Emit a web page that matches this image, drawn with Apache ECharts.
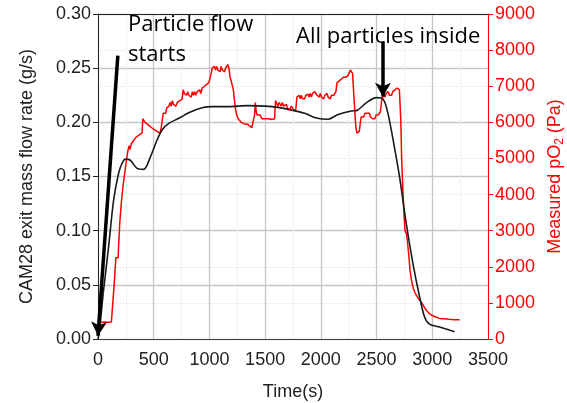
<!DOCTYPE html>
<html><head><meta charset="utf-8">
<script src="https://cdn.jsdelivr.net/npm/echarts@6/dist/echarts.min.js"></script>
<style>html,body{margin:0;padding:0;background:#fff}#c{width:567px;height:403px}</style>
</head><body><div id="c"></div>
<script>
// Data
const flowRate = [[0,0.0],[13,0.008],[50,0.045],[95,0.085],[140,0.128],[185,0.153],[215,0.162],[245,0.166],[290,0.165],[350,0.1575],[410,0.1566],[470,0.168],[530,0.1837],[575,0.193],[635,0.199],[725,0.2037],[814,0.2089],[934,0.2135],[1024,0.2145],[1168,0.2145],[1347,0.2154],[1500,0.215],[1616,0.2138],[1750,0.211],[1855,0.2083],[1960,0.204],[2064,0.2028],[2150,0.207],[2273,0.2105],[2318,0.2108],[2407,0.218],[2497,0.2228],[2542,0.2225],[2572,0.219],[2602,0.2083],[2632,0.193],[2662,0.176],[2706,0.1498],[2766,0.1068],[2826,0.0699],[2886,0.039],[2930,0.0206],[2975,0.0138],[3065,0.011],[3200,0.0067]];
const pO2 = [[0,470],[30,465],[60,470],[90,465],[120,470],[128,480],[145,1500],[160,2250],[172,2300],[180,2250],[195,3200],[210,3800],[225,4250],[240,4600],[255,4950],[268,5200],[278,5350],[288,5250],[298,5400],[310,5350],[320,5500],[332,5450],[345,5600],[358,5550],[370,5650],[385,5600],[395,5700],[402,6100],[412,6050],[422,6000],[432,6050],[442,5950],[452,6000],[462,5900],[472,5950],[482,5850],[495,5900],[505,5800],[518,5850],[530,5750],[545,5800],[555,5700],[565,5800],[575,5750],[585,6250],[597,6300],[607,6250],[617,6400],[627,6350],[637,6450],[647,6550],[657,6450],[667,6600],[677,6500],[690,6550],[700,6450],[712,6550],[722,6500],[735,6600],[745,6550],[755,6650],[765,6900],[775,6800],[785,6850],[795,6750],[805,6850],[815,6750],[827,6800],[837,6700],[847,6850],[857,6750],[867,6850],[877,6750],[890,6850],[900,6800],[912,6900],[922,6800],[935,6950],[945,6900],[955,7000],[965,6950],[975,7050],[985,7000],[995,7100],[1005,7100],[1015,7350],[1025,7500],[1035,7450],[1045,7550],[1055,7450],[1065,7550],[1075,7450],[1085,7500],[1095,7400],[1105,7550],[1115,7450],[1125,7500],[1135,7400],[1145,7500],[1155,7500],[1165,7600],[1175,7500],[1185,7250],[1195,7150],[1205,7150],[1215,6900],[1225,6600],[1235,6350],[1245,6200],[1258,6100],[1270,6050],[1285,6000],[1300,6000],[1320,5950],[1340,5950],[1360,5900],[1380,5850],[1395,5880],[1405,6200],[1412,6550],[1420,6300],[1428,6200],[1440,6150],[1455,6200],[1470,6100],[1485,6150],[1500,6100],[1515,6150],[1530,6100],[1545,6150],[1560,6080],[1575,6100],[1585,6100],[1593,6600],[1605,6550],[1615,6450],[1625,6550],[1635,6500],[1645,6450],[1655,6550],[1665,6450],[1675,6500],[1690,6500],[1700,6400],[1712,6450],[1722,6350],[1735,6450],[1745,6400],[1755,6350],[1765,6400],[1775,6350],[1785,6700],[1795,6650],[1805,6750],[1815,6650],[1825,6750],[1835,6650],[1845,6700],[1855,6650],[1865,6750],[1875,6700],[1885,6780],[1895,6700],[1905,6800],[1915,6700],[1925,6800],[1935,6750],[1945,6850],[1955,6800],[1965,6750],[1975,6800],[1985,6700],[1995,6800],[2005,6700],[2015,6750],[2025,6650],[2035,6750],[2045,6700],[2055,6800],[2065,6700],[2075,6750],[2085,6650],[2095,6750],[2105,6700],[2115,6750],[2125,6700],[2135,6850],[2145,7100],[2155,7050],[2165,7150],[2175,7100],[2185,7200],[2195,7150],[2205,7250],[2215,7200],[2225,7250],[2235,7200],[2245,7300],[2255,7350],[2265,7450],[2275,7400],[2285,7350],[2295,6800],[2303,6400],[2313,5900],[2323,5700],[2333,5700],[2345,5750],[2355,6000],[2362,6150],[2375,6200],[2385,6150],[2395,6250],[2405,6200],[2415,6250],[2425,6200],[2435,6250],[2445,6150],[2455,6150],[2465,6100],[2475,6150],[2485,6100],[2495,6200],[2505,6150],[2515,6200],[2525,6250],[2535,6300],[2545,6600],[2555,6650],[2565,6800],[2575,6700],[2585,6800],[2595,6750],[2605,6850],[2615,6750],[2625,6800],[2635,6750],[2645,6850],[2655,6800],[2665,6900],[2675,6850],[2685,6950],[2695,7000],[2705,6900],[2712,6900],[2718,6000],[2725,5000],[2735,4200],[2745,3500],[2755,3000],[2770,2900],[2778,2900],[2790,2300],[2800,1900],[2815,1600],[2830,1400],[2845,1280],[2860,1200],[2880,1100],[2900,1030],[2925,900],[2950,780],[2975,700],[3000,650],[3030,610],[3065,570],[3100,560],[3150,545],[3200,535],[3245,530]];
const arrowStart = [[178,0.2615],[0,0.003]];
const arrowInside = [[2557,0.2744],[2557,0.2237]];

const chart = echarts.init(document.getElementById('c'));
const font = 'Liberation Sans, Arial, sans-serif';
chart.setOption({
  animation:false,
  grid:{left:98,right:79,top:14,bottom:64,containLabel:false,outerBoundsMode:'none'},
  xAxis:[
   {type:'value',min:0,max:3500,interval:250,position:'bottom',
    axisLine:{show:false},axisTick:{show:false},axisLabel:{show:false},
    splitLine:{show:true,lineStyle:{color:'#e4e4e4',width:1,type:'dotted'}}},
   {type:'value',min:0,max:3500,interval:500,position:'bottom',
    name:'Time(s)',nameLocation:'middle',nameGap:44,
    nameTextStyle:{fontFamily:font,fontSize:18,color:'#222'},
    axisLine:{show:true,onZero:false,lineStyle:{color:'#444',width:1}},axisTick:{show:false},
    axisLabel:{fontFamily:font,fontSize:18,color:'#222',margin:12,formatter:v=>String(v)},
    splitLine:{show:true,lineStyle:{color:'#c6c6c6',width:1.3}}},
   {type:'value',min:0,max:3500,position:'top',
    axisLine:{show:true,onZero:false,lineStyle:{color:'#222',width:1}},axisTick:{show:false},
    axisLabel:{show:false},splitLine:{show:false}}],
  yAxis:[
   {type:'value',min:0,max:9000,interval:1000,position:'right',
    name:'Measured pO{s|2} (Pa)',nameLocation:'middle',nameGap:54,
    nameTextStyle:{fontFamily:font,fontSize:18,color:'#ff0000',
      rich:{s:{fontFamily:font,fontSize:12,color:'#ff0000',padding:[10,0,0,0]}}},
    axisLine:{show:true,onZero:false,lineStyle:{color:'#ff0000'}},
    axisTick:{show:true,length:5,lineStyle:{color:'#ff0000'}},
    axisLabel:{fontFamily:font,fontSize:18,color:'#ff0000',margin:7,formatter:v=>String(v)},
    splitLine:{show:true,lineStyle:{color:'#e4e4e4',width:1,type:'dotted'}}},
   {type:'value',min:0,max:0.3,interval:0.05,position:'left',
    name:'CAM28 exit mass flow rate (g/s)',nameLocation:'middle',nameGap:62,
    nameTextStyle:{fontFamily:font,fontSize:18,color:'#222'},
    axisLine:{show:true,onZero:false,lineStyle:{color:'#222'}},
    axisTick:{show:true,length:5,lineStyle:{color:'#222'}},
    axisLabel:{fontFamily:font,fontSize:18,color:'#222',margin:7,formatter:v=>v.toFixed(2)},
    splitLine:{show:true,lineStyle:{color:'#c6c6c6',width:1.3}}}],
  series:[
    {type:'line',xAxisIndex:1,yAxisIndex:0,data:pO2,showSymbol:false,lineStyle:{color:'#ff0000',width:1.5},z:2},
    {type:'line',xAxisIndex:1,yAxisIndex:1,data:flowRate,showSymbol:false,smooth:0.3,lineStyle:{color:'#1a1a1a',width:1.6},z:3,
     markLine:{silent:true,symbol:['none','arrow'],symbolSize:[12,14],label:{show:false},
       lineStyle:{color:'#000',width:3.5,type:'solid'},
       data:[[{coord:arrowStart[0]},{coord:arrowStart[1]}],[{coord:arrowInside[0]},{coord:arrowInside[1]}]]}}
  ],
  graphic:[
    {type:'text',left:128,top:10,style:{text:'Particle flow\nstarts',font:'22px "Open Sans", sans-serif',lineHeight:30,fill:'#000'},z:10},
    {type:'text',left:296,top:22,style:{text:'All particles inside',font:'22px "Open Sans", sans-serif',lineHeight:30,fill:'#000'},z:10}
  ]
});
</script></body></html>
